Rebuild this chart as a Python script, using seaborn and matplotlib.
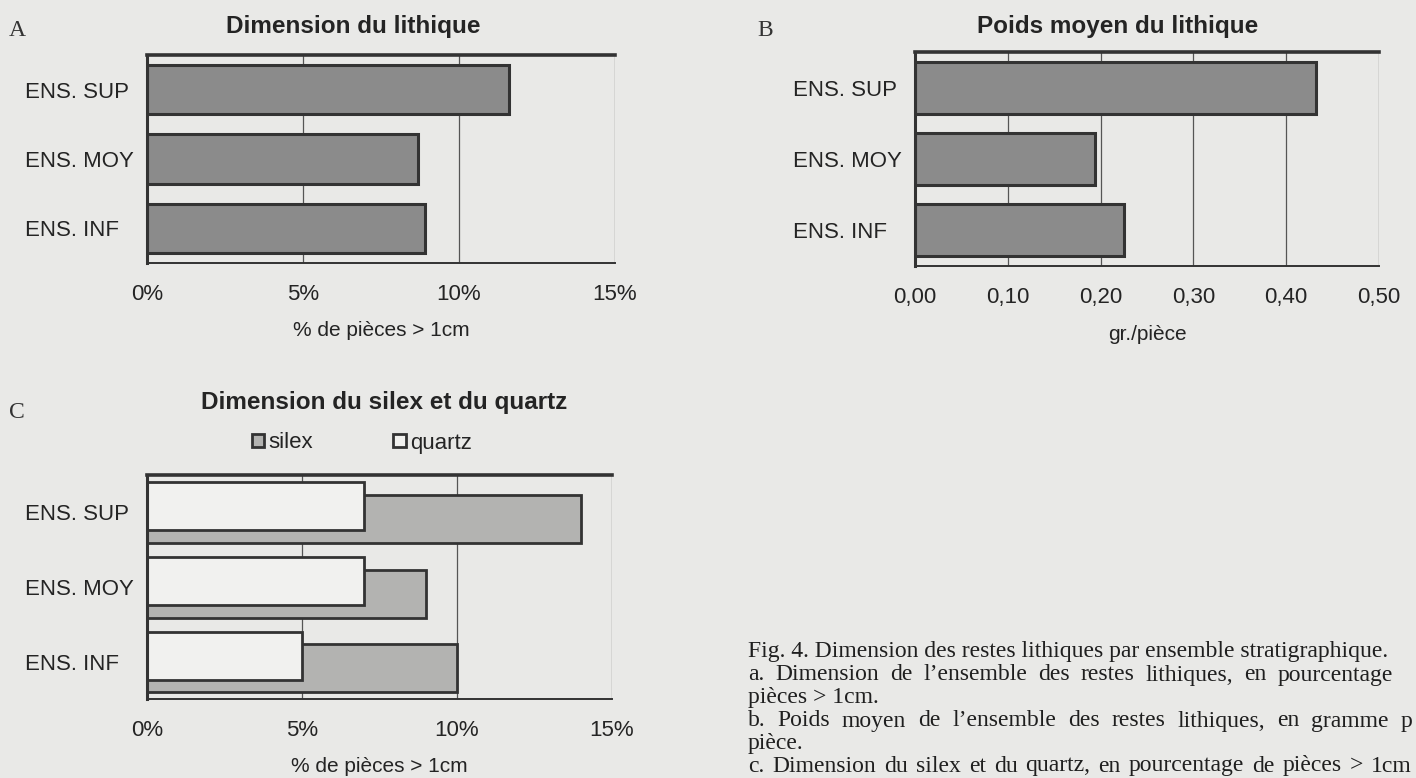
import matplotlib
matplotlib.use("Agg")
import matplotlib.pyplot as plt
from matplotlib.patches import Patch
import numpy as np
import seaborn as sns

# Data
categories = ['ENS. SUP', 'ENS. MOY', 'ENS. INF']
dim_lithique = [11.6, 8.7, 8.9]          # % de pièces > 1cm
poids_moyen = [0.432, 0.194, 0.225]      # gr./pièce
silex = [14.0, 9.0, 10.0]                # % de pièces > 1cm
quartz = [7.0, 7.0, 5.0]

pct_ticks = [0, 5, 10, 15]
pct_labels = ['0%', '5%', '10%', '15%']
poids_ticks = [0.0, 0.1, 0.2, 0.3, 0.4, 0.5]
poids_labels = ['0,00', '0,10', '0,20', '0,30', '0,40', '0,50']

sns.set_style('white')
SANS = ['Liberation Sans', 'DejaVu Sans']
SERIF = ['Liberation Serif', 'DejaVu Serif']
plt.rcParams['font.family'] = SANS
plt.rcParams['text.color'] = '#242424'
plt.rcParams['axes.labelcolor'] = '#242424'
plt.rcParams['xtick.color'] = '#303030'
plt.rcParams['ytick.color'] = '#303030'
plt.rcParams['xtick.labelcolor'] = '#242424'
plt.rcParams['ytick.labelcolor'] = '#242424'

PAGE = '#e9e9e7'
DARK = '#333333'
BAR = '#8b8b8b'
SILEX = '#b3b3b1'
QUARTZ = '#f1f1ef'

W, H = 1416, 778
fig = plt.figure(figsize=(W / 100, H / 100), dpi=100, facecolor=PAGE)


def box(left, top, right, bottom):
    return [left / W, 1 - bottom / H, (right - left) / W, (bottom - top) / H]


def style_axes(ax, xmax, ticks, labels, minor_step, xlabel):
    ax.set_facecolor(PAGE)
    ax.set_xlim(0, xmax)
    ax.set_xticks(ticks)
    ax.set_xticklabels(labels, fontsize=16)
    ax.set_xticks(np.arange(0, xmax + minor_step / 2, minor_step), minor=True)
    ax.tick_params(axis='x', which='both', direction='in', length=5, width=1, pad=15)
    ax.set_yticks([0.5, 1.5], minor=True)
    ax.tick_params(axis='y', which='major', length=0, labelsize=16, pad=88)
    ax.tick_params(axis='y', which='minor', direction='inout', length=7, width=1.2)
    for lab in ax.get_yticklabels():
        lab.set_horizontalalignment('left')
    ax.set_ylabel('')
    ax.set_xlabel(xlabel, fontsize=15, labelpad=12)
    ax.xaxis.grid(True, which='major', color='#555555', linewidth=0.9)
    ax.set_axisbelow(True)
    ax.spines['right'].set_visible(False)
    ax.spines['top'].set_linewidth(2.6)
    ax.spines['top'].set_color(DARK)
    ax.spines['left'].set_linewidth(2.2)
    ax.spines['left'].set_color(DARK)
    ax.spines['bottom'].set_linewidth(1.4)
    ax.spines['bottom'].set_color(DARK)


# A - Dimension du lithique
axA = fig.add_axes(box(147, 55, 615, 263))
sns.barplot(x=dim_lithique, y=categories, orient='h', ax=axA, color=BAR,
            saturation=1, edgecolor=DARK, linewidth=2.2, width=0.71)
style_axes(axA, 15, pct_ticks, pct_labels, 1, '% de pièces > 1cm')

# B - Poids moyen du lithique
axB = fig.add_axes(box(915, 52, 1379, 266))
sns.barplot(x=poids_moyen, y=categories, orient='h', ax=axB, color=BAR,
            saturation=1, edgecolor=DARK, linewidth=2.2, width=0.73)
style_axes(axB, 0.5, poids_ticks, poids_labels, 0.02, 'gr./pièce')

# C - Dimension du silex et du quartz (Excel-style overlapping bars)
axC = fig.add_axes(box(147, 475, 612, 699))
sns.barplot(x=silex, y=categories, orient='h', ax=axC, color=SILEX,
            saturation=1, edgecolor=DARK, linewidth=2.0, width=0.64)
for p in axC.patches:
    p.set_y(p.get_y() + 0.09)
n_silex = len(axC.patches)
sns.barplot(x=quartz, y=categories, orient='h', ax=axC, color=QUARTZ,
            saturation=1, edgecolor=DARK, linewidth=2.0, width=0.64)
for p in axC.patches[n_silex:]:
    p.set_y(p.get_y() - 0.08)
style_axes(axC, 15, pct_ticks, pct_labels, 1, '% de pièces > 1cm')

handles = [Patch(facecolor=SILEX, edgecolor=DARK, linewidth=2, label='silex'),
           Patch(facecolor=QUARTZ, edgecolor=DARK, linewidth=2, label='quartz')]
fig.legend(handles=handles, loc='center', bbox_to_anchor=(362 / W, 1 - 443 / H),
           ncol=2, frameon=False, fontsize=16, handlelength=0.55, handleheight=0.55,
           handletextpad=0.2, columnspacing=3.6)

# Titles and panel letters
title_kw = dict(fontsize=17.5, fontweight='bold', ha='center', va='center')
fig.text(353 / W, 1 - 27 / H, 'Dimension du lithique', **title_kw)
fig.text(1118 / W, 1 - 27 / H, 'Poids moyen du lithique', **title_kw)
fig.text(384 / W, 1 - 402 / H, 'Dimension du silex et du quartz', **title_kw)

letter_kw = dict(fontsize=17, family=SERIF, ha='left', va='center', color='#333333')
fig.text(9 / W, 1 - 31 / H, 'A', **letter_kw)
fig.text(757 / W, 1 - 31 / H, 'B', **letter_kw)
fig.text(9 / W, 1 - 413 / H, 'C', **letter_kw)

# Caption (justified lines, as typeset on the page)
renderer = fig.canvas.get_renderer()
cap_kw = dict(fontsize=17, family=SERIF, va='center', ha='left', color='#1f1f1f')


def caption_line(text, y, x0, x1=None):
    words = text.split(' ')
    if x1 is None:
        fig.text(x0 / W, 1 - y / H, text, **cap_kw)
        return
    items = [fig.text(0, 1 - y / H, w, **cap_kw) for w in words]
    widths = [t.get_window_extent(renderer).width for t in items]
    gap = (x1 - x0 - sum(widths)) / (len(words) - 1)
    x = x0
    for t, w in zip(items, widths):
        t.set_x(x / W)
        x += w + gap


caption_line('Fig. 4. Dimension des restes lithiques par ensemble stratigraphique.', 652, 748)
caption_line('a. Dimension de l\u2019ensemble des restes lithiques, en pourcentage', 675, 748, 1393)
caption_line('pièces > 1cm.', 698, 748)
caption_line('b. Poids moyen de l\u2019ensemble des restes lithiques, en gramme p', 721, 748, 1412)
caption_line('pièce.', 744, 748)
caption_line('c. Dimension du silex et du quartz, en pourcentage de pièces > 1cm', 766, 748, 1412)

fig.savefig('out.png', dpi=100, facecolor=PAGE)
